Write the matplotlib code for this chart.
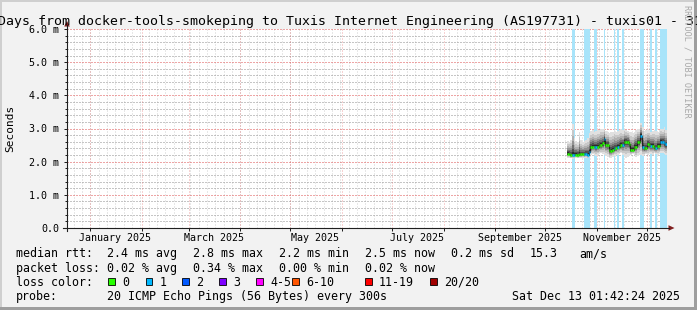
import datetime as dt

import matplotlib
matplotlib.use("Agg")
import matplotlib.dates as mdates
import matplotlib.pyplot as plt
import numpy as np
from matplotlib.lines import Line2D
from matplotlib.patches import Polygon, Rectangle
from matplotlib.ticker import FixedLocator, FuncFormatter, MultipleLocator, NullFormatter

W, H, DPI = 697, 310, 100
MONO = "DejaVu Sans Mono"
plt.rcParams["lines.scale_dashes"] = False

# ---- data ------------------------------------------------------------------
title = ("360 Days from docker-tools-smokeping to Tuxis Internet Engineering "
         "(AS197731) - tuxis01 - 31")
end_time = dt.datetime(2025, 12, 13, 1, 42, 24)
span_days = 360
first_day = dt.datetime(2025, 10, 14)

# one value per day, milliseconds
median_ms = [2.24, 2.24, 2.20, 2.20, 2.20, 2.21, 2.20, 2.23, 2.22, 2.22,
             2.22, 2.22, 2.21, 2.28, 2.43, 2.45, 2.45, 2.44, 2.45, 2.50,
             2.50, 2.55, 2.68, 2.50, 2.50, 2.35, 2.32, 2.35, 2.40, 2.40,
             2.45, 2.45, 2.50, 2.50, 2.60, 2.60, 2.60, 2.52, 2.35, 2.35,
             2.45, 2.45, 2.58, 2.58, 2.78, 2.45, 2.40, 2.40, 2.52, 2.50,
             2.48, 2.48, 2.40, 2.40, 2.48, 2.48, 2.60, 2.60, 2.55, 2.52]
smoke_hi_ms = [2.62, 2.60, 2.65, 3.15, 2.70, 2.62, 2.60, 2.88, 2.64, 2.60,
               2.62, 2.66, 2.70, 2.85, 2.92, 2.95, 2.90, 2.92, 2.96, 2.94,
               3.00, 2.98, 3.02, 2.92, 2.90, 2.86, 2.88, 2.90, 2.95, 2.90,
               2.92, 2.95, 2.98, 2.94, 3.00, 2.96, 2.92, 2.90, 2.88, 2.85,
               2.90, 2.95, 2.98, 3.00, 3.18, 3.05, 2.92, 2.95, 2.98, 2.95,
               2.90, 2.92, 2.95, 2.92, 2.90, 2.96, 3.00, 2.98, 3.05, 2.95]
smoke_lo_ms = [2.12, 2.10, 2.10, 2.08, 2.10, 2.12, 2.10, 2.12, 2.10, 2.12,
               2.10, 2.12, 2.10, 2.15, 2.20, 2.22, 2.20, 2.18, 2.20, 2.22,
               2.25, 2.22, 2.20, 2.18, 2.15, 2.10, 2.12, 2.15, 2.18, 2.20,
               2.20, 2.22, 2.25, 2.20, 2.15, 2.12, 2.15, 2.18, 2.20, 2.22,
               2.20, 2.15, 2.18, 2.20, 2.20, 2.18, 2.20, 2.22, 2.20, 2.25,
               2.22, 2.20, 2.25, 2.22, 2.20, 2.22, 2.25, 2.25, 2.22, 2.20]
loss_class = [0, 0, 0, 1, 1, 0, 0, 0, 0, 0,
              1, 1, 1, 1, 0, 0, 1, 1, 0, 0,
              0, 0, 1, 0, 0, 0, 0, 0, 1, 0,
              1, 0, 0, 1, 0, 0, 0, 0, 0, 0,
              0, 0, 0, 0, 1, 1, 0, 0, 0, 0,
              1, 0, 0, 1, 0, 0, 1, 1, 1, 1]

loss_colors = ["#26ff00", "#00b8ff", "#0059ff", "#7e00ff",
               "#ff00ff", "#ff5500", "#ff0000", "#a10000"]
loss_labels = ["0", "1", "2", "3", "4-5", "6-10", "11-19", "20/20"]

rtt_stats = ["2.4 ms avg", "2.8 ms max", "2.2 ms min", "2.5 ms now",
             "0.2 ms sd", "15.3", "am/s"]
loss_stats = ["0.02 % avg", "0.34 % max", "0.00 % min", "0.02 % now"]
probe_text = "20 ICMP Echo Pings (56 Bytes) every 300s"
stamp_text = "Sat Dec 13 01:42:24 2025"

# ---- layout (pixels) -------------------------------------------------------
X0, X1, Y0, Y1 = 67, 667, 228, 29
stat_x = [107.3, 193.3, 279.3, 365, 451, 530, 579.3]
swatch_x = [108.3, 145.7, 182.3, 219, 256, 292.3, 365, 430]
row_y = [257.3, 271.7, 285.7, 300]
LEG_SIZE = 8.4

smoke_fracs = [1.0, 0.78, 0.6, 0.45, 0.32, 0.2, 0.1]
smoke_grays = ["#e0e0e0", "#c8c8c8", "#b0b0b0", "#929292", "#727272", "#505050", "#2c2c2c"]
lossbar_color = "#a8e4fa"
minor_grid = (0.56, 0.56, 0.56, 0.42)
major_grid = (0.87, 0.31, 0.31, 0.5)
dots = (0, (0.72, 1.44))


def fx(px):
    return px / W


def fy(py):
    return 1 - py / H


fig = plt.figure(figsize=(W / DPI, H / DPI), dpi=DPI, facecolor="#f2f2f2")
ax = fig.add_axes([fx(X0), fy(Y0), (X1 - X0) / W, (Y0 - Y1) / H], facecolor="white")

start_time = end_time - dt.timedelta(days=span_days)
day_starts = [first_day + dt.timedelta(days=i) for i in range(len(median_ms))]
xe = mdates.date2num(day_starts + [end_time])
med = np.array(median_ms)
hi = np.array(smoke_hi_ms)
lo = np.array(smoke_lo_ms)

# loss background bars
lossy = [d for d, c in zip(day_starts, loss_class) if c > 0]
ax.bar(mdates.date2num(lossy), 6.0, width=1.0, align="edge",
       color=lossbar_color, lw=0, zorder=2)

# smoke
for frac, shade in zip(smoke_fracs, smoke_grays):
    top = med + (hi - med) * frac
    bot = med - (med - lo) * frac
    ax.fill_between(xe, np.append(bot, bot[-1]), np.append(top, top[-1]),
                    step="post", color=shade, lw=0, zorder=3)

# median
ax.step(xe, np.append(med, med[-1]), where="post", color="#202020", lw=0.7, zorder=4)
ax.hlines(med, xe[:-1], xe[1:], colors=[loss_colors[c] for c in loss_class],
          lw=1.8, zorder=5)

ax.set_xlim(start_time, end_time)
ax.set_ylim(0, 6.0)

# grid
t0, t1 = mdates.date2num(start_time), mdates.date2num(end_time)
anchor = mdates.date2num(dt.datetime(2025, 1, 1))
five_day = anchor + 5 * np.arange(np.floor((t0 - anchor) / 5), np.ceil((t1 - anchor) / 5) + 1)
five_day = five_day[(five_day > t0) & (five_day < t1)]
month_starts = mdates.MonthLocator().tick_values(start_time, end_time)
month_starts = [m for m in month_starts if t0 < m < t1]
ax.vlines(five_day, 0, 6, colors=[minor_grid], lw=0.72, linestyles=[dots], zorder=0.5)
ax.vlines(month_starts, 0, 6, colors=[major_grid], lw=0.72, linestyles=[dots], zorder=0.6)
ax.set_axisbelow(True)
ax.grid(axis="y", which="minor", color=minor_grid, lw=0.72, linestyle=dots)
ax.grid(axis="y", which="major", color=major_grid, lw=0.72, linestyle=dots)
ax.grid(axis="x", visible=False)

# x ticks: marks at month starts, labels centred in every second month
label_pos = [mdates.date2num(dt.datetime(2025, m, 1)) + 15 for m in (1, 3, 5, 7, 9, 11)]
ax.xaxis.set_major_locator(FixedLocator(label_pos))
ax.xaxis.set_major_formatter(FuncFormatter(lambda v, _: mdates.num2date(v).strftime("%B %Y")))
ax.xaxis.set_minor_locator(FixedLocator(month_starts))
ax.xaxis.set_minor_formatter(NullFormatter())
ax.tick_params(axis="x", which="major", length=0, pad=3.4, labelsize=7.2)
ax.tick_params(axis="x", which="minor", direction="out", length=2.2, width=0.72, color="#1f1f1f")

# y ticks
ax.yaxis.set_major_locator(MultipleLocator(1.0))
ax.yaxis.set_minor_locator(MultipleLocator(0.2))
ax.yaxis.set_major_formatter(FuncFormatter(lambda v, _: "0.0" if v == 0 else f"{v:.1f} m"))
ax.tick_params(axis="y", which="major", direction="out", length=2.2, width=0.72,
               color="#1f1f1f", pad=3.4, labelsize=7.2)
ax.tick_params(axis="y", which="minor", direction="out", length=1.5, width=0.72, color="#1f1f1f")
for lab in ax.get_xticklabels() + ax.get_yticklabels():
    lab.set_family(MONO)

for sp in ax.spines.values():
    sp.set_visible(False)

# axes with arrows
fig.add_artist(Line2D([fx(X0), fx(X0)], [fy(231), fy(25)], transform=fig.transFigure,
                      color="#1f1f1f", lw=0.8))
fig.add_artist(Line2D([fx(63), fx(669)], [fy(Y0), fy(Y0)], transform=fig.transFigure,
                      color="#1f1f1f", lw=0.8))
fig.add_artist(Polygon([[fx(X0), fy(21.0)], [fx(X0 - 2.8), fy(26.5)], [fx(X0 + 2.8), fy(26.5)]],
                       closed=True, transform=fig.transFigure, color="#801f1f", lw=0))
fig.add_artist(Polygon([[fx(674.5), fy(Y0)], [fx(668.5), fy(Y0 - 2.8)], [fx(668.5), fy(Y0 + 2.8)]],
                       closed=True, transform=fig.transFigure, color="#801f1f", lw=0))

# frame shading
fig.add_artist(Rectangle((0, fy(2)), 1, 2 / H, transform=fig.transFigure, color="#cfcfcf", lw=0))
fig.add_artist(Rectangle((0, 0), 2 / W, 1, transform=fig.transFigure, color="#cfcfcf", lw=0))
fig.add_artist(Rectangle((0, 0), 1, 3 / H, transform=fig.transFigure, color="#9e9e9e", lw=0))
fig.add_artist(Rectangle((fx(W - 3), 0), 3 / W, 1, transform=fig.transFigure, color="#9e9e9e", lw=0))

# texts
fig.text(fx(-34.3), fy(24.5), title, ha="left", va="baseline", fontsize=9.57, family=MONO)
fig.text(fx(10), fy(128), "Seconds", rotation=90, ha="center", va="center",
         fontsize=8, family=MONO)
fig.text(fx(687.5), fy(5), "RRDTOOL / TOBI OETIKER", rotation=270, ha="center", va="top",
         fontsize=6.1, color="#a8a8a8", family=MONO)

LEG = dict(ha="left", va="baseline", fontsize=LEG_SIZE, family=MONO)
fig.text(fx(16), fy(row_y[0]), "median rtt:", **LEG)
for x, s in zip(stat_x, rtt_stats):
    fig.text(fx(x), fy(row_y[0]), s, **LEG)
fig.text(fx(16), fy(row_y[1]), "packet loss:", **LEG)
for x, s in zip(stat_x, loss_stats):
    fig.text(fx(x), fy(row_y[1]), s, **LEG)
fig.text(fx(16), fy(row_y[2]), "loss color:", **LEG)
for x, c, s in zip(swatch_x, loss_colors, loss_labels):
    fig.add_artist(Rectangle((fx(x), fy(row_y[2] - 0.7)), 6.7 / W, 7.5 / H,
                             transform=fig.transFigure, facecolor=c, edgecolor="black", lw=0.6))
    fig.text(fx(x + 14.0), fy(row_y[2]), s, **LEG)
fig.text(fx(16), fy(row_y[3]), "probe:", **LEG)
fig.text(fx(stat_x[0]), fy(row_y[3]), probe_text, **LEG)
fig.text(fx(680), fy(row_y[3]), stamp_text, ha="right", va="baseline",
         fontsize=LEG_SIZE, family=MONO)

# "0.0" is printed with room for a unit, so it sits further left
ticks = ax.yaxis.get_major_ticks()
ticks[0].set_pad(3.4 + 8.64)

fig.savefig("out.png", dpi=DPI, facecolor=fig.get_facecolor())
